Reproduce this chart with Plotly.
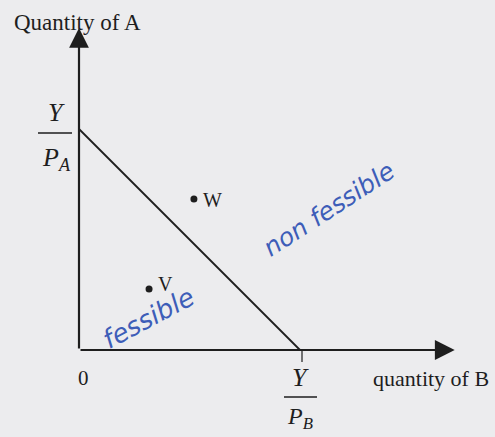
import plotly.graph_objects as go

# Budget constraint: intercepts Y/P_B on the B axis and Y/P_A on the A axis
income_over_pb = 10.0
income_over_pa = 10.0

# Consumption bundles
bundle_names = ["W", "V"]
bundle_qty_b = [5.2, 3.17]
bundle_qty_a = [6.83, 2.76]

# Length of the drawn axes (arrow tips)
b_axis_end = 17.0
a_axis_end = 14.57

BG = "#ececee"
INK = "#1e1e1e"
PEN = "#3d5db8"
SERIF = "Liberation Serif"

fig = go.Figure()

# Budget line
fig.add_trace(go.Scatter(
    x=[0, income_over_pb], y=[income_over_pa, 0],
    mode="lines", line=dict(color=INK, width=1.8),
    hoverinfo="skip", showlegend=False,
))

# Bundles
fig.add_trace(go.Scatter(
    x=bundle_qty_b, y=bundle_qty_a, mode="markers",
    marker=dict(color=INK, size=7),
    hoverinfo="skip", showlegend=False,
))

annotations = []

# Axes with arrowheads
annotations.append(dict(
    x=b_axis_end, y=0, ax=0, ay=0, xref="x", yref="y", axref="x", ayref="y",
    text="", showarrow=True, arrowhead=2, arrowsize=1.8, arrowwidth=2.2, arrowcolor=INK,
))
annotations.append(dict(
    x=0, y=a_axis_end, ax=0, ay=0, xref="x", yref="y", axref="x", ayref="y",
    text="", showarrow=True, arrowhead=2, arrowsize=1.8, arrowwidth=2.2, arrowcolor=INK,
))

# Axis titles
annotations.append(dict(
    x=0, y=a_axis_end, xref="x", yref="y", xanchor="left", xshift=-67, yshift=6,
    text="Quantity of A", showarrow=False, font=dict(family=SERIF, size=23, color=INK),
))
annotations.append(dict(
    x=b_axis_end, y=0, xref="x", yref="y", xanchor="left", xshift=-84, yshift=-28,
    text="quantity of B", showarrow=False, font=dict(family=SERIF, size=22, color=INK),
))
annotations.append(dict(
    x=0, y=0, xref="x", yref="y", xshift=4, yshift=-28,
    text="0", showarrow=False, font=dict(family=SERIF, size=21, color=INK),
))

# Intercept labels Y/P_A and Y/P_B
frac_font = dict(family=SERIF, size=26, color=INK)
annotations += [
    dict(x=0, y=income_over_pa, xref="x", yref="y", xshift=-23, yshift=17,
         text="<i>Y</i>", showarrow=False, font=frac_font),
    dict(x=0, y=income_over_pa, xref="x", yref="y", xshift=-23, yshift=-30,
         text="<i>P</i><sub><i>A</i></sub>", showarrow=False, font=frac_font),
    dict(x=income_over_pb, y=0, xref="x", yref="y", xshift=0, yshift=-27,
         text="<i>Y</i>", showarrow=False, font=frac_font),
    dict(x=income_over_pb, y=0, xref="x", yref="y", xshift=0, yshift=-68,
         text="<i>P</i><sub><i>B</i></sub>", showarrow=False,
         font=dict(family=SERIF, size=24, color=INK)),
]

# Bundle labels
for name, bx, ay_ in zip(bundle_names, bundle_qty_b, bundle_qty_a):
    annotations.append(dict(
        x=bx, y=ay_, xref="x", yref="y", xanchor="left", xshift=7, yshift=5 if name == "V" else -1,
        text=name, showarrow=False, font=dict(family=SERIF, size=20, color=INK),
    ))

# Handwritten notes
annotations.append(dict(
    x=11.3, y=6.35, xref="x", yref="y",
    text="non fessible", textangle=-33, showarrow=False,
    font=dict(family="DejaVu Sans", size=25, color=PEN, style="italic", weight=300),
))
annotations.append(dict(
    x=3.15, y=1.45, xref="x", yref="y",
    text="fessible", textangle=-28, showarrow=False,
    font=dict(family="DejaVu Sans", size=26, color=PEN, style="italic", weight=300),
))

shapes = [
    # fraction bars
    dict(type="line", xref="x", yref="y", xsizemode="pixel", ysizemode="pixel",
         xanchor=0, yanchor=income_over_pa, x0=-41, x1=-7, y0=-4, y1=-4,
         line=dict(color=INK, width=1.6)),
    dict(type="line", xref="x", yref="y", xsizemode="pixel", ysizemode="pixel",
         xanchor=income_over_pb, yanchor=0, x0=-16, x1=17, y0=-47, y1=-47,
         line=dict(color=INK, width=1.6)),
    # small tick below the B intercept
    dict(type="line", xref="x", yref="y", xsizemode="pixel", ysizemode="pixel",
         xanchor=income_over_pb, yanchor=0, x0=2, x1=2, y0=0, y1=-12,
         line=dict(color=INK, width=1.2)),
]

px_per_unit = 22.1
fig.update_layout(
    width=495, height=437, margin=dict(l=0, r=0, t=0, b=0),
    paper_bgcolor=BG, plot_bgcolor=BG,
    xaxis=dict(range=[-79 / px_per_unit, (495 - 79) / px_per_unit], visible=False, fixedrange=True),
    yaxis=dict(range=[(350 - 437) / px_per_unit, 350 / px_per_unit], visible=False, fixedrange=True),
    annotations=annotations, shapes=shapes, showlegend=False,
)

fig.write_html("out.html")
